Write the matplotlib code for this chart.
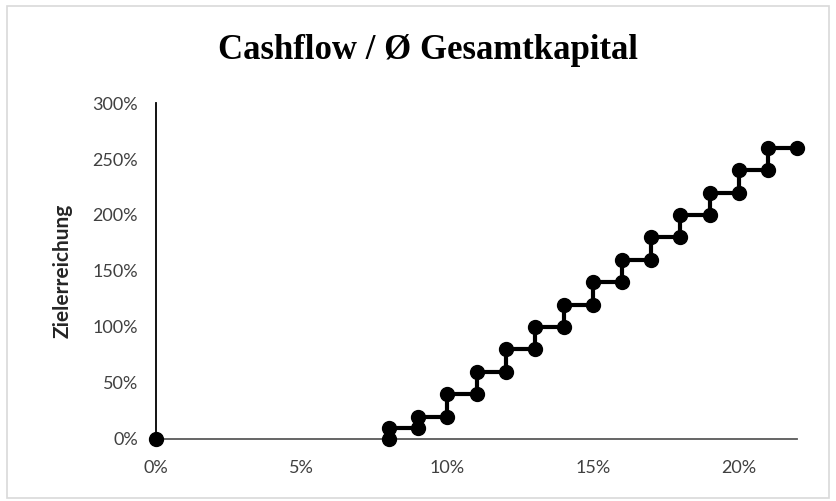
import matplotlib
matplotlib.use('Agg')
from matplotlib import pyplot as plt
from matplotlib.patches import Rectangle
from matplotlib.ticker import FuncFormatter

# data: cashflow / avg total capital (%) vs target achievement (%)
start_x = [0]
start_y = [0]
step_x = [8, 8, 9, 9, 10, 10, 11, 11, 12, 12, 13, 13, 14, 14, 15, 15,
          16, 16, 17, 17, 18, 18, 19, 19, 20, 20, 21, 21, 22]
step_y = [0, 10, 10, 20, 20, 40, 40, 60, 60, 80, 80, 100, 100, 120, 120, 140,
          140, 160, 160, 180, 180, 200, 200, 220, 220, 240, 240, 260, 260]
x_ticks = [0, 5, 10, 15, 20]
y_ticks = [0, 50, 100, 150, 200, 250, 300]

fig = plt.figure(figsize=(8.36, 5.01), dpi=100)
fig.patch.set_facecolor('white')
fig.patches.append(Rectangle((0.008, 0.006), 0.984, 0.982, transform=fig.transFigure,
                             fill=False, edgecolor='#d9d9d9', linewidth=1.2))

ax = fig.add_axes([0.1866, 0.1238, 0.7668, 0.6706])
ax.plot(step_x, step_y, color='black', linewidth=3, marker='o', markersize=10,
        clip_on=False, zorder=3)
ax.plot(start_x, start_y, color='black', linestyle='none', marker='o', markersize=10,
        clip_on=False, zorder=3)

ax.set_xlim(0, 22)
ax.set_ylim(0, 300)
ax.set_xticks(x_ticks)
ax.set_yticks(y_ticks)
pct = FuncFormatter(lambda v, p: '%d%%' % v)
ax.xaxis.set_major_formatter(pct)
ax.yaxis.set_major_formatter(pct)

for s in ['top', 'right']:
    ax.spines[s].set_visible(False)
ax.spines['left'].set_color('black')
ax.spines['bottom'].set_color('#595959')
ax.spines['left'].set_linewidth(1.3)
ax.spines['bottom'].set_linewidth(1.3)
ax.tick_params(length=0, labelsize=13, labelcolor='#404040', pad=13)
ax.tick_params(axis='x', pad=15)
for lab in ax.get_xticklabels() + ax.get_yticklabels():
    lab.set_family('Lato')

ax.set_ylabel('Zielerreichung', fontsize=15, fontweight='bold', family='Lato',
              color='#262626', labelpad=14)
fig.text(0.512, 0.9, 'Cashflow / Ø Gesamtkapital', ha='center', va='center',
         fontsize=25, fontweight='bold', family='Liberation Serif')

fig.savefig('out.png', dpi=100)
